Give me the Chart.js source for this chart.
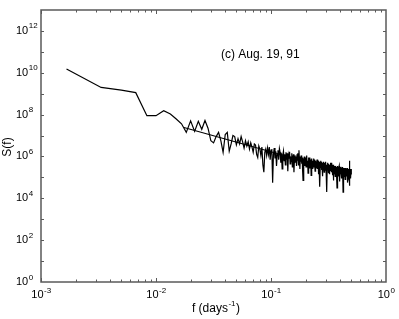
<!DOCTYPE html>
<html>
<head>
<meta charset="utf-8">
<script src="https://cdn.jsdelivr.net/npm/chart.js@4/dist/chart.umd.min.js"></script>
<style>
  html,body{margin:0;padding:0;background:#fff}
  #wrap{width:399px;height:319px}
</style>
</head>
<body>
<div id="wrap"><canvas id="canvas" width="399" height="319"></canvas></div>
<script>
// record length in days, spectrum bins are k/nDays
const nDays = 600

// log10 S(f) for k = 1..300
const logS = [
  10.18, 9.30, 9.17, 9.05, 7.95, 7.95, 8.19, 8.03, 7.79, 7.56,
  7.15, 7.70, 7.20, 7.68, 7.30, 7.72, 7.35, 6.75, 6.65, 6.95,
  7.15, 6.75, 6.20, 7.05, 7.15, 6.25, 6.60, 7.00, 6.95, 6.55,
  6.85, 6.60, 6.95, 6.70, 6.40, 6.75, 6.50, 6.70, 6.35, 6.65,
  6.45, 6.20, 6.60, 6.55, 6.10, 5.95, 6.50, 6.35, 6.05, 6.45,
  5.60, 5.25, 6.20, 6.35, 6.05, 6.40, 6.10, 6.45, 5.85, 6.30,
  6.35, 4.75, 6.10, 6.40, 5.90, 6.25, 5.55, 6.10, 6.30, 5.85,
  6.38, 6.20, 5.70, 6.15, 5.40, 6.05, 6.25, 5.80, 6.10, 5.60,
  6.20, 5.85, 6.15, 5.30, 6.05, 5.90, 6.22, 5.65, 6.00, 5.75,
  6.15, 5.50, 5.95, 6.10, 5.25, 5.90, 6.05, 5.70, 6.00, 5.55,
  6.10, 5.80, 6.15, 5.60, 6.30, 5.85, 5.40, 6.00, 5.75, 6.05,
  5.65, 5.95, 5.30, 4.85, 5.90, 5.70, 6.00, 5.55, 5.85, 5.95,
  5.50, 5.90, 6.05, 5.60, 5.80, 5.20, 5.85, 5.95, 5.45, 5.75,
  5.95, 5.60, 5.85, 5.10, 5.70, 5.90, 5.55, 5.80, 5.40, 5.75,
  5.90, 5.50, 5.70, 5.85, 5.30, 5.65, 5.80, 5.45, 5.70, 5.55,
  5.85, 5.40, 5.65, 5.80, 5.15, 5.60, 5.75, 5.50, 5.70, 4.55,
  5.60, 5.80, 5.45, 5.65, 5.35, 5.75, 5.50, 5.70, 5.05, 5.60,
  5.75, 5.40, 5.65, 5.25, 5.70, 5.55, 5.35, 5.65, 5.45, 5.75,
  5.30, 5.60, 5.50, 4.30, 5.55, 5.70, 5.40, 5.60, 5.20, 5.55,
  5.65, 5.35, 5.55, 5.15, 5.60, 5.45, 5.70, 5.30, 5.50, 5.40,
  5.55, 5.25, 5.70, 5.45, 5.10, 5.55, 5.35, 5.60, 4.85, 5.50,
  5.60, 5.30, 5.45, 5.20, 5.55, 5.40, 5.05, 5.50, 5.35, 5.55,
  5.25, 5.50, 5.40, 5.15, 4.50, 5.45, 5.55, 5.30, 5.45, 5.20,
  5.50, 5.35, 5.05, 5.45, 5.55, 5.25, 5.40, 4.80, 5.45, 5.30,
  5.50, 5.15, 5.40, 5.25, 5.45, 4.95, 5.40, 5.30, 5.50, 5.20,
  5.40, 5.10, 5.45, 4.30, 5.35, 5.45, 5.20, 5.40, 5.05, 5.35,
  5.45, 5.15, 5.35, 5.25, 4.90, 5.40, 5.20, 5.45, 5.10, 5.30,
  5.40, 5.05, 5.35, 5.20, 5.45, 4.75, 5.30, 5.15, 5.40, 5.25,
  5.05, 5.35, 5.20, 5.40, 4.95, 5.30, 5.15, 5.80, 5.10, 4.60,
  5.30, 5.15, 5.40, 5.05, 5.30, 5.20, 4.95, 5.35, 5.15, 5.40
]

// power-law fit endpoints
const fitF = [0.0175, 0.5]
const fitLogS = [7.38, 5.15]

const xTickExp = [-3, -2, -1, 0]
const yTickExp = [0, 2, 4, 6, 8, 10, 12]
const panelLabel = '(c) Aug. 19, 91'
const xTitle = 'f (days'
const yTitle = 'S(f)'

const FONT = '"Liberation Sans", Arial, sans-serif'
const AXIS = '#5a5a5a'

let spectrum = []
for (let i = 0; i < logS.length; i++) {
  spectrum.push({ x: (i + 1) / nDays, y: Math.pow(10, logS[i]) })
}
let fit = []
for (let i = 0; i < fitF.length; i++) {
  fit.push({ x: fitF[i], y: Math.pow(10, fitLogS[i]) })
}

function powLabel(c, x, y, exp, size, align) {
  c.font = size + 'px ' + FONT
  const wBase = c.measureText('10').width
  c.font = Math.round(size * 0.72) + 'px ' + FONT
  const wExp = c.measureText(exp).width
  let x0 = x
  if (align === 'center') x0 = x - (wBase + wExp) / 2
  c.textAlign = 'left'
  c.textBaseline = 'alphabetic'
  c.font = size + 'px ' + FONT
  c.fillText('10', x0, y)
  c.font = Math.round(size * 0.72) + 'px ' + FONT
  c.fillText(exp, x0 + wBase + 0.5, y - size * 0.5)
}

const frame = {
  id: 'frame',
  afterDraw(chart) {
    const c = chart.ctx
    const a = chart.chartArea
    const xs = chart.scales.x
    const ys = chart.scales.y
    c.save()
    c.strokeStyle = AXIS
    c.lineWidth = 1.5
    c.strokeRect(Math.round(a.left), Math.round(a.top),
      Math.round(a.right - a.left), Math.round(a.bottom - a.top))

    // x ticks, inward on bottom and top
    c.lineWidth = 1
    c.beginPath()
    for (let e = -3; e < 0; e++) {
      for (let m = 1; m <= 9; m++) {
        const px = Math.round(xs.getPixelForValue(m * Math.pow(10, e))) + 0.5
        const len = m === 1 ? 4 : 2.5
        c.moveTo(px, a.bottom); c.lineTo(px, a.bottom - len)
        c.moveTo(px, a.top); c.lineTo(px, a.top + len)
      }
    }
    // y ticks every decade, inward on left and right
    for (let e = 1; e <= 12; e++) {
      const py = Math.round(ys.getPixelForValue(Math.pow(10, e))) + 0.5
      c.moveTo(a.left, py); c.lineTo(a.left + 3, py)
      c.moveTo(a.right, py); c.lineTo(a.right - 3, py)
    }
    c.stroke()

    c.fillStyle = '#000'
    for (const e of xTickExp) {
      powLabel(c, xs.getPixelForValue(Math.pow(10, e)), a.bottom + 16, String(e), 11, 'center')
    }
    for (const e of yTickExp) {
      powLabel(c, 16, ys.getPixelForValue(Math.pow(10, e)) + 3, String(e), 11, 'left')
    }

    // axis titles
    c.font = '12px ' + FONT
    c.textAlign = 'left'
    c.textBaseline = 'alphabetic'
    const wT = c.measureText(xTitle).width
    c.font = '8px ' + FONT
    const wE = c.measureText('-1').width
    c.font = '12px ' + FONT
    const wP = c.measureText(')').width
    const tx = (a.left + a.right) / 2 - (wT + wE + wP) / 2 + 2
    c.fillText(xTitle, tx, 312)
    c.font = '8px ' + FONT
    c.fillText('-1', tx + wT + 0.5, 306)
    c.font = '12px ' + FONT
    c.fillText(')', tx + wT + wE + 1, 312)

    c.save()
    c.translate(8, (a.top + a.bottom) / 2 + 1)
    c.rotate(-Math.PI / 2)
    c.textAlign = 'center'
    c.textBaseline = 'middle'
    c.fillText(yTitle, 0, 0)
    c.restore()

    // panel label
    c.font = '12px ' + FONT
    c.textAlign = 'left'
    c.fillText(panelLabel, xs.getPixelForValue(0.0367), 58)
    c.restore()
  }
}

const ctx = document.getElementById('canvas')

new Chart(ctx, {
  type: 'scatter',
  data: {
    datasets: [
      {
        label: 'S(f)',
        data: spectrum,
        showLine: true,
        borderColor: '#000',
        borderWidth: 1.2,
        pointRadius: 0
      },
      {
        label: 'fit',
        data: fit,
        showLine: true,
        borderColor: '#000',
        borderWidth: 1.1,
        pointRadius: 0
      }
    ]
  },
  options: {
    responsive: false,
    animation: false,
    layout: { padding: { left: 41, right: 13, top: 10, bottom: 37 } },
    elements: { line: { tension: 0 } },
    plugins: { legend: { display: false }, tooltip: { enabled: false } },
    scales: {
      x: { type: 'logarithmic', min: 1e-3, max: 1, display: false },
      y: { type: 'logarithmic', min: 1, max: 1e13, display: false }
    }
  },
  plugins: [frame]
})
</script>
</body>
</html>
